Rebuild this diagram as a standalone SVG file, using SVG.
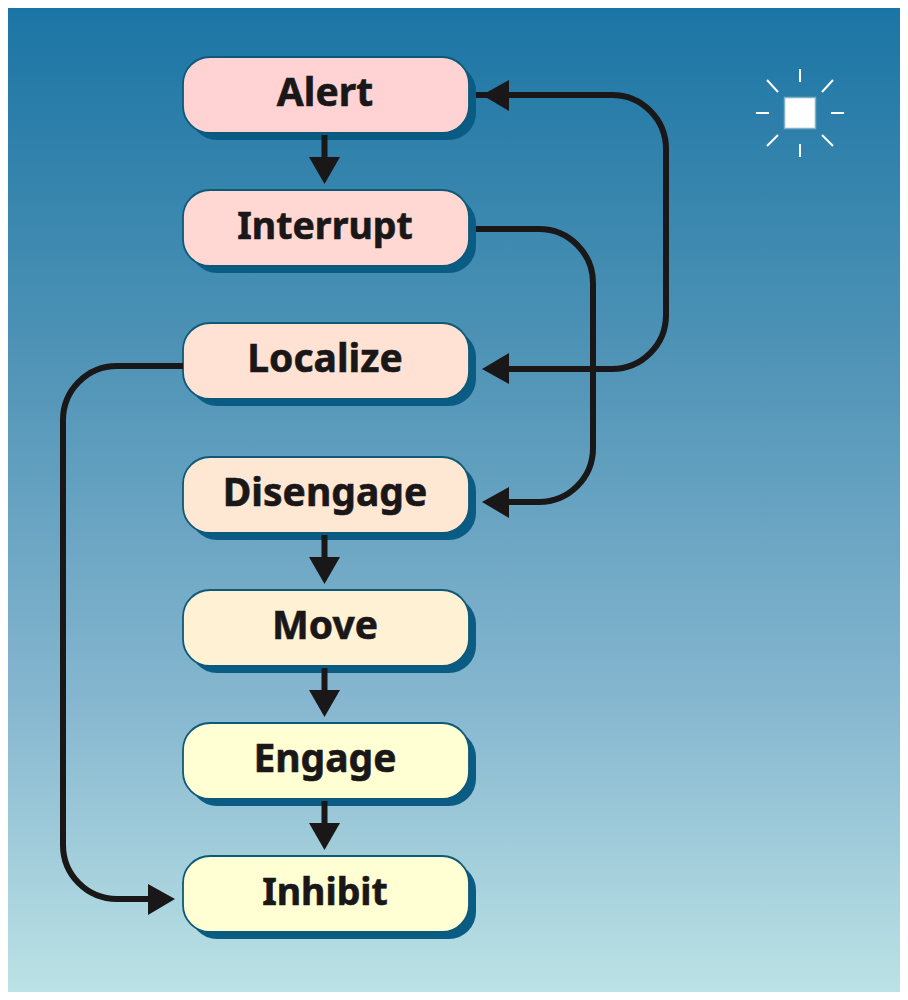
<svg xmlns="http://www.w3.org/2000/svg" width="908" height="1000" viewBox="0 0 908 1000">
<style>
.shadow{fill:#0b5c85}
.box{stroke:#0d5a78;stroke-width:1.8}
.label{font-family:"Noto Sans","Open Sans",sans-serif;font-weight:700;font-size:39px;fill:#1a1718;stroke:#1a1718;stroke-width:0.6;text-anchor:middle}
.narrow{font-size:37.500px}
.line{fill:none;stroke:#1a1718;stroke-width:6}
.head{fill:#1a1718}
.ray{stroke:#fff;stroke-width:2;fill:none}
</style>
<defs>
<linearGradient id="bg" x1="0" y1="0" x2="0" y2="1">
<stop offset="0" stop-color="#1b75a4"/>
<stop offset="0.35" stop-color="#4f93b6"/>
<stop offset="0.7" stop-color="#85b6cf"/>
<stop offset="1" stop-color="#bbe2e5"/>
</linearGradient>
</defs>
<rect width="908" height="1000" fill="#fff"/>
<rect x="8" y="8" width="892" height="984" fill="url(#bg)"/>
<g id="alert"><rect class="shadow" x="190" y="64" width="286" height="76" rx="27"/><rect class="box" x="183" y="57" width="286" height="76" rx="27" fill="#ffd3d3"/><text class="label" x="325" y="106">Alert</text></g>
<g id="interrupt"><rect class="shadow" x="190" y="197" width="286" height="76" rx="27"/><rect class="box" x="183" y="190" width="286" height="76" rx="27" fill="#ffd8d3"/><text class="label narrow" x="325" y="239">Interrupt</text></g>
<g id="localize"><rect class="shadow" x="190" y="330" width="286" height="76" rx="27"/><rect class="box" x="183" y="323" width="286" height="76" rx="27" fill="#ffe2d3"/><text class="label" x="325" y="372">Localize</text></g>
<g id="disengage"><rect class="shadow" x="190" y="464" width="286" height="76" rx="27"/><rect class="box" x="183" y="457" width="286" height="76" rx="27" fill="#ffe8d3"/><text class="label" x="325" y="506">Disengage</text></g>
<g id="move"><rect class="shadow" x="190" y="597" width="286" height="76" rx="27"/><rect class="box" x="183" y="590" width="286" height="76" rx="27" fill="#fff1d3"/><text class="label" x="325" y="639">Move</text></g>
<g id="engage"><rect class="shadow" x="190" y="730" width="286" height="76" rx="27"/><rect class="box" x="183" y="723" width="286" height="76" rx="27" fill="#ffffd3"/><text class="label" x="325" y="772">Engage</text></g>
<g id="inhibit"><rect class="shadow" x="190" y="863" width="286" height="76" rx="27"/><rect class="box" x="183" y="856" width="286" height="76" rx="27" fill="#ffffd3"/><text class="label narrow" x="325" y="905">Inhibit</text></g>
<g id="connectors">
<path class="line" d="M324.500 135V160"/><polygon class="head" points="309,157 340,157 324.500,184"/>
<path class="line" d="M324.500 535V560"/><polygon class="head" points="309,557 340,557 324.500,584"/>
<path class="line" d="M324.500 668V693"/><polygon class="head" points="309,690 340,690 324.500,717"/>
<path class="line" d="M324.500 801V826"/><polygon class="head" points="309,823 340,823 324.500,850"/>
<path class="line" d="M476 95H612A54 54 0 0 1 666 149V315A54 54 0 0 1 612 369H505"/>
<polygon class="head" points="509,80 509,111 482,95"/>
<polygon class="head" points="509,353 509,384 482,369"/>
<path class="line" d="M476 229H539A54 54 0 0 1 593 283V448A54 54 0 0 1 539 502H505"/>
<polygon class="head" points="509,487 509,518 482,502"/>
<path class="line" d="M183 366H117A54 54 0 0 0 63 420V845A54 54 0 0 0 117 899H152"/>
<polygon class="head" points="148,884 148,915 175,899"/>
</g>
<g id="light">
<rect x="784.500" y="97.500" width="31" height="31" fill="#fff" stroke="#7fb0cc" stroke-width="1.500"/>
<path class="ray" d="M800 69V82M800 144V157M756 113H769M831 113H844M767 80L778 92M833 80L822 92M778 135L767 146M822 135L833 146"/>
</g>
</svg>
